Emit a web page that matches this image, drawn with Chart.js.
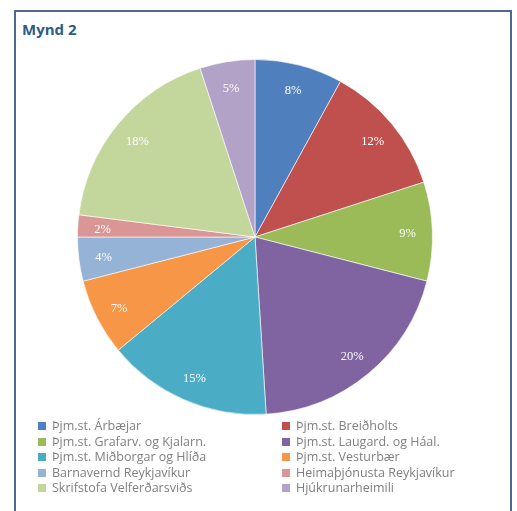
<!DOCTYPE html>
<html>
<head>
<meta charset="utf-8">
<script src="https://cdn.jsdelivr.net/npm/chart.js@4"></script>
<style>
  body { margin: 0; background: #fff; width: 517px; height: 511px; overflow: hidden; position: relative; font-family: "Open Sans", "Liberation Sans", sans-serif; }
  #frame { position: absolute; left: 14px; top: 10px; width: 494px; height: 520px; border: 2px solid #4d6a8c; background: #fff; }
  #title { position: absolute; left: 22px; top: 19px; font-size: 15px; font-weight: bold; color: #2f5b87; }
  #chartBox { position: absolute; left: 0; top: 0; width: 517px; height: 511px; }
  #legend { position: absolute; left: 38px; top: 418px; width: 470px; font-size: 12.5px; color: #808080; }
  .item { position: absolute; white-space: nowrap; height: 15px; line-height: 15px; }
  .box { display: inline-block; width: 8px; height: 8px; margin-right: 6px; vertical-align: 0px; }
</style>
</head>
<body>
<div id="frame"></div>
<div id="title">Mynd 2</div>
<div id="chartBox"><canvas id="pieChart" width="517" height="511"></canvas></div>
<div id="legend"></div>
<script>
const categories = [
    'Þjm.st. Árbæjar',
    'Þjm.st. Breiðholts',
    'Þjm.st. Grafarv. og Kjalarn.',
    'Þjm.st. Laugard. og Háal.',
    'Þjm.st. Miðborgar og Hlíða',
    'Þjm.st. Vesturbær',
    'Barnavernd Reykjavíkur',
    'Heimaþjónusta Reykjavíkur',
    'Skrifstofa Velferðarsviðs',
    'Hjúkrunarheimili'
];
const shares = [8, 12, 9, 20, 15, 7, 4, 2, 18, 5];
const colors = ['#4f7fbd', '#c0504d', '#9bbb59', '#8064a2', '#4bacc6', '#f79646', '#95b3d7', '#d99694', '#c3d69b', '#b3a2c7'];

// percentage labels drawn on the slices
const sliceLabels = {
    id: 'sliceLabels',
    afterDatasetsDraw(chart) {
        const c = chart.ctx;
        const meta = chart.getDatasetMeta(0);
        c.save();
        c.fillStyle = '#ffffff';
        c.font = '12.5px "Liberation Serif", serif';
        c.textAlign = 'center';
        c.textBaseline = 'middle';
        meta.data.forEach(function(arc, i) {
            const mid = (arc.startAngle + arc.endAngle) / 2;
            const r = arc.outerRadius * 0.86;
            c.fillText(shares[i] + '%', arc.x + Math.cos(mid) * r, arc.y + Math.sin(mid) * r + 2);
        });
        c.restore();
    }
};

const ctx = document.getElementById('pieChart').getContext('2d');
const pieChart = new Chart(ctx, {
    type: 'pie',
    data: {
        labels: categories,
        datasets: [{
            data: shares,
            backgroundColor: colors,
            borderColor: 'rgba(255,255,255,0.6)',
            borderWidth: 1
        }]
    },
    options: {
        responsive: false,
        animation: false,
        layout: { padding: { top: 59, bottom: 96, left: 77, right: 84 } },
        plugins: {
            legend: { display: false },
            tooltip: { enabled: false }
        }
    },
    plugins: [sliceLabels]
});

// two-column legend
const legend = document.getElementById('legend');
categories.forEach(function(name, i) {
    const el = document.createElement('div');
    el.className = 'item';
    el.style.left = (i % 2 === 0 ? 0 : 244) + 'px';
    el.style.top = (Math.floor(i / 2) * 15.5) + 'px';
    el.innerHTML = '<span class="box" style="background:' + colors[i] + '"></span>' + name;
    legend.appendChild(el);
});
</script>
</body>
</html>
